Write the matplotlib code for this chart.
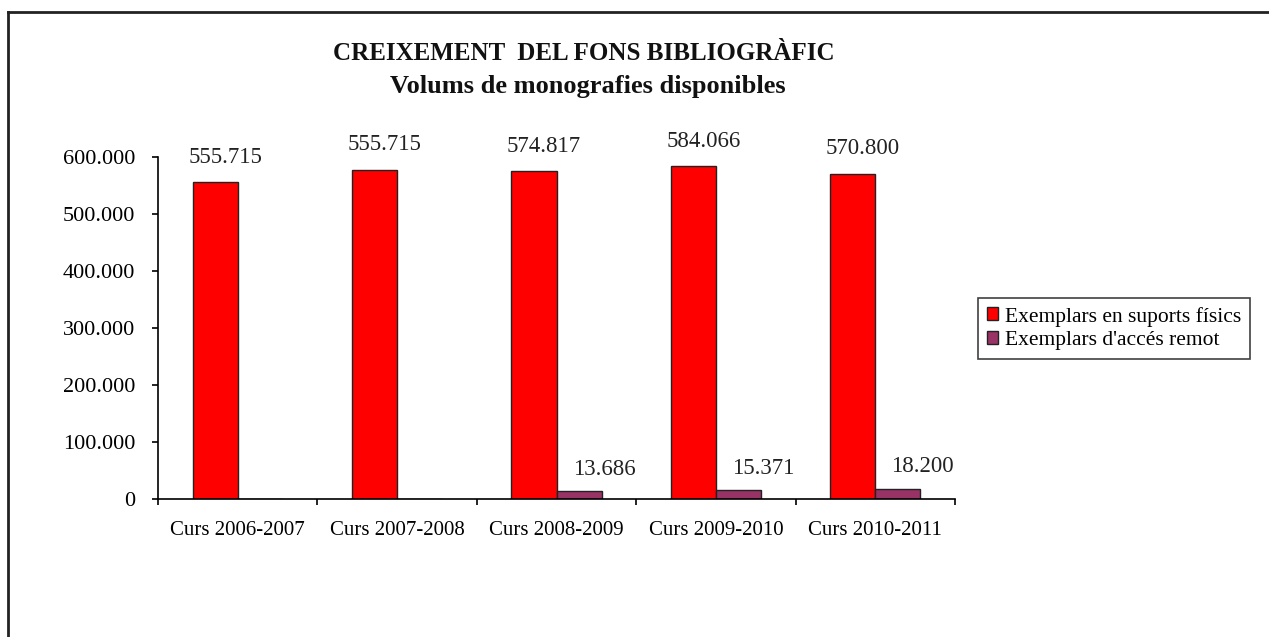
import matplotlib
matplotlib.use("Agg")
import matplotlib.pyplot as plt
import numpy as np

cursos = ["Curs 2006-2007", "Curs 2007-2008", "Curs 2008-2009", "Curs 2009-2010", "Curs 2010-2011"]
fisics = [555715, 577500, 574817, 584066, 570800]
fisics_labels = ["555.715", "555.715", "574.817", "584.066", "570.800"]
remot = [0, 0, 13686, 15371, 18200]
remot_labels = ["", "", "13.686", "15.371", "18.200"]
yticks = [0, 100000, 200000, 300000, 400000, 500000, 600000]
ytick_labels = ["0", "100.000", "200.000", "300.000", "400.000", "500.000", "600.000"]

plt.rcParams["font.family"] = ["Liberation Serif", "DejaVu Serif"]

fig = plt.figure(figsize=(12.69, 6.37), dpi=100)
ax = fig.add_axes([158 / 1269, 138 / 637, (955 - 158) / 1269, (499 - 157) / 637])

x = np.arange(len(cursos))
w = 0.283
b1 = ax.bar(x - w / 2, fisics, w, color="#ff0000", edgecolor="#222222", linewidth=1,
            label="Exemplars en suports físics")
b2 = ax.bar(x + w / 2, remot, w, color="#993366", edgecolor="#222222", linewidth=1,
            label="Exemplars d'accés remot")

for rect, lab in zip(b1, fisics_labels):
    ax.annotate(lab, (rect.get_x() + rect.get_width() / 2, rect.get_height()),
                xytext=(10, 25), textcoords="offset pixels", ha="center", va="center",
                fontsize=16.5, color="#222222", annotation_clip=False)
for rect, lab in zip(b2, remot_labels):
    if lab:
        ax.annotate(lab, (rect.get_x() + rect.get_width() / 2, rect.get_height()),
                    xytext=(25, 22), textcoords="offset pixels", ha="center", va="center",
                    fontsize=16.5, color="#222222", annotation_clip=False)

ax.set_xlim(-0.5, len(cursos) - 0.5)
ax.set_ylim(0, 600000)
ax.set_yticks(yticks)
ax.set_yticklabels(ytick_labels, fontsize=16)
ax.set_xticks(x)
ax.set_xticklabels(cursos, fontsize=15)
ax.set_xticks(np.arange(len(cursos) + 1) - 0.5, minor=True)
ax.tick_params(axis="x", which="major", length=0, pad=16)
ax.tick_params(axis="x", which="minor", length=4.5, direction="out", width=1.2)
ax.tick_params(axis="y", length=4.5, direction="out", width=1.2, pad=12)
ax.spines["top"].set_visible(False)
ax.spines["right"].set_visible(False)
ax.spines["left"].set_linewidth(1.2)
ax.spines["bottom"].set_linewidth(1.2)

fig.text(584 / 1269, 1 - 53 / 637, "CREIXEMENT  DEL FONS BIBLIOGRÀFIC", ha="center", va="center",
         fontsize=18, fontweight="bold", color="#111111")
fig.text(588 / 1269, 1 - 86 / 637, "Volums de monografies disponibles", ha="center", va="center",
         fontsize=19, fontweight="bold", color="#111111")

leg = fig.legend(loc="upper left", bbox_to_anchor=(978 / 1269, 1 - 298 / 637), fontsize=15.5,
                 frameon=True, fancybox=False, edgecolor="#111111", handlelength=0.55,
                 handleheight=0.55, handletextpad=0.3, borderpad=0.4, labelspacing=0.2,
                 borderaxespad=0)
leg.get_frame().set_linewidth(1.2)

# marc de la imatge (només a dalt i a l'esquerra)
fig.add_artist(plt.Line2D([8 / 1269, 1], [1 - 12 / 637, 1 - 12 / 637], color="#222222", lw=2))
fig.add_artist(plt.Line2D([8 / 1269, 8 / 1269], [0, 1 - 12 / 637], color="#222222", lw=2))

fig.savefig("out.png", dpi=100)
